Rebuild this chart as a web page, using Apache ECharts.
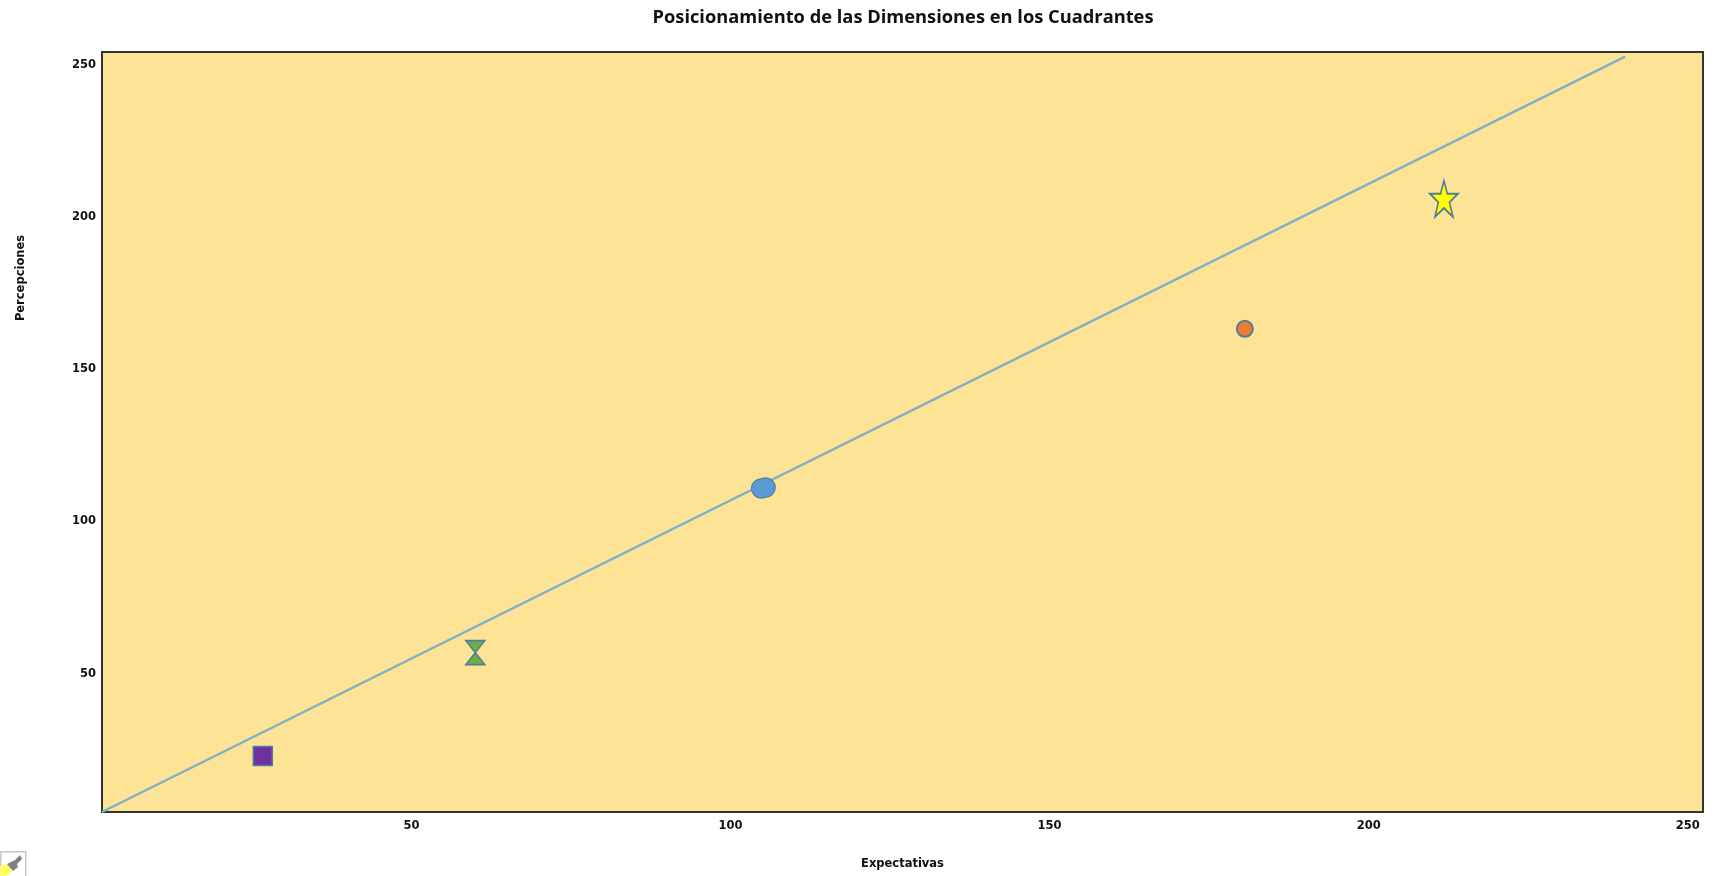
<!DOCTYPE html>
<html><head><meta charset="utf-8">
<style>html,body{margin:0;padding:0;background:#fff}#c{width:1715px;height:876px;filter:blur(0.5px)}</style>
<script src="https://cdn.jsdelivr.net/npm/echarts@6/dist/echarts.min.js"></script>
</head><body><div id="c"></div>
<script>
const titleText = 'Posicionamiento de las Dimensiones en los Cuadrantes';
const xTitle = 'Expectativas';
const yTitle = 'Percepciones';
const xRange = [1.5, 252.4];
const yRange = [3.8, 253.75];
const xTicks = [50, 100, 150, 200, 250];
const yTicks = [50, 100, 150, 200, 250];
const linePoints = [[1.5, 3.8], [240.2, 252.2]];
const squarePoint = [26.7, 22.2];
const hourglassPoint = [60, 56.2];
const blobPoints = [[104.8, 110.2], [105.5, 110.5]];
const circlePoint = [180.6, 162.7];
const starPoint = [211.8, 205.5];

const edge = '#4f7d9c';
const hourglass = 'path://M0 0 L10 0 L5 6 L10 12 L0 12 L5 6 Z';
const star = 'path://M50 0 L62 36 L100 36 L70 60 L82 100 L50 76 L18 100 L30 60 L0 36 L38 36 Z';
function marks(name, data, symbol, size, fill, bw) {
  return {name, type: 'scatter', data, symbol, symbolSize: size, z: 5,
    itemStyle: {color: fill, borderColor: edge, borderWidth: bw === undefined ? 1.5 : bw, opacity: 1}};
}
const axisFont = {color: '#111', fontFamily: 'DejaVu Sans', fontWeight: 'bold', fontSize: 11.5};
const chart = echarts.init(document.getElementById('c'), null, {renderer: 'canvas'});
chart.setOption({
  animation: false,
  backgroundColor: '#fff',
  title: {text: titleText, left: 898, top: 4, textAlign: 'center',
    textStyle: {fontFamily: 'Open Sans', fontWeight: 'bold', fontSize: 18.3, color: '#111'}},
  grid: {left: 102, right: 12, top: 52, bottom: 64, show: true, backgroundColor: '#fde395',
    borderColor: '#333', borderWidth: 2},
  xAxis: {type: 'value', min: xRange[0], max: xRange[1], name: xTitle, nameLocation: 'middle', nameGap: 46,
    nameTextStyle: axisFont,
    axisLabel: {customValues: xTicks, ...axisFont, margin: 8},
    axisLine: {show: false}, axisTick: {show: false}, splitLine: {show: false}},
  yAxis: {type: 'value', min: yRange[0], max: yRange[1], name: yTitle, nameLocation: 'middle', nameGap: 75,
    nameTextStyle: {...axisFont, padding: [0, 0, 0, 308]},
    axisLabel: {customValues: yTicks, ...axisFont, margin: 6, verticalAlign: 'top', lineHeight: 4},
    axisLine: {show: false}, axisTick: {show: false}, splitLine: {show: false}},
  series: [
    {name: 'Línea', type: 'line', data: linePoints, symbol: 'none', z: 3,
      lineStyle: {color: '#80b0c8', width: 2.5}},
    marks('A', [squarePoint], 'rect', 19, '#7030a0'),
    marks('B', [hourglassPoint], hourglass, [19, 24], '#70ad47'),
    marks('C', blobPoints, 'circle', 19, '#5b9bd5'),
    {name: 'C relleno', type: 'scatter', data: blobPoints, symbol: 'circle', symbolSize: 18, z: 6,
      itemStyle: {color: '#5b9bd5', opacity: 1}},
    marks('D', [circlePoint], 'circle', 16, '#ed7d31', 2),
    marks('E', [starPoint], star, [28, 36], '#ffff00', 1.8)
  ],
  graphic: [
    {type: 'rect', left: 0, top: 851, z: 10, shape: {width: 25, height: 25}, style: {fill: '#fff', stroke: '#c8c8c8', lineWidth: 1.5}},
    {type: 'polygon', z: 11, shape: {points: [[0, 866], [7, 864], [13, 871], [6, 876], [0, 876]]}, style: {fill: '#ffff66'}},
    {type: 'polygon', z: 12, shape: {points: [[15, 860], [20, 855], [22, 859], [17, 864], [18, 867], [13, 871], [7, 864]]}, style: {fill: '#808080'}}
  ]
});
</script></body></html>
